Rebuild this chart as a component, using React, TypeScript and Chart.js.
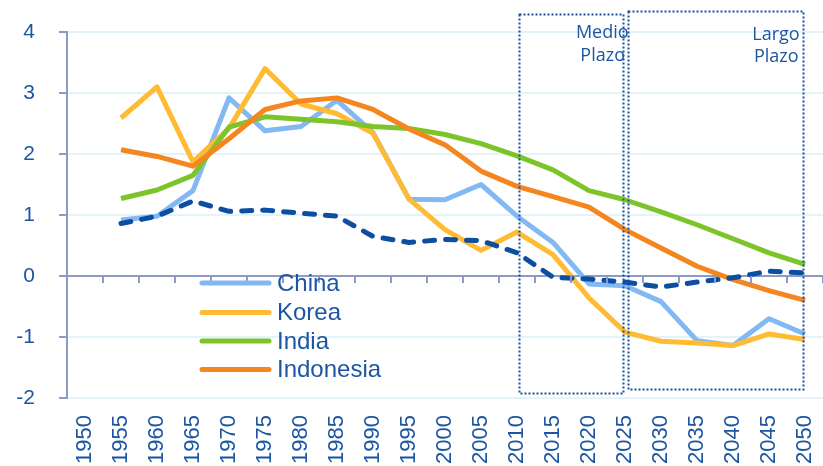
import React, { useEffect, useRef } from 'react';
import { Chart, registerables } from 'chart.js';

Chart.register(...registerables);

const years = ['1950', '1955', '1960', '1965', '1970', '1975', '1980', '1985', '1990', '1995', '2000', '2005', '2010', '2015', '2020', '2025', '2030', '2035', '2040', '2045', '2050'];

const china = [null, 0.92, 0.98, 1.40, 2.92, 2.38, 2.45, 2.88, 2.35, 1.26, 1.25, 1.50, 0.98, 0.55, -0.13, -0.16, -0.42, -1.06, -1.14, -0.70, -0.95];
const korea = [null, 2.59, 3.10, 1.87, 2.42, 3.40, 2.82, 2.66, 2.34, 1.26, 0.76, 0.42, 0.72, 0.35, -0.36, -0.92, -1.07, -1.10, -1.14, -0.95, -1.04];
const india = [null, 1.27, 1.41, 1.65, 2.44, 2.61, 2.57, 2.53, 2.45, 2.42, 2.32, 2.17, 1.97, 1.74, 1.40, 1.25, 1.05, 0.84, 0.61, 0.38, 0.19];
const indonesia = [null, 2.07, 1.96, 1.80, 2.25, 2.73, 2.87, 2.92, 2.73, 2.41, 2.15, 1.72, 1.47, 1.30, 1.13, 0.76, 0.46, 0.16, -0.06, -0.24, -0.40];
const dashedSeries = [null, 0.86, 0.98, 1.23, 1.06, 1.08, 1.03, 0.98, 0.65, 0.55, 0.60, 0.58, 0.38, -0.02, -0.05, -0.10, -0.18, -0.10, -0.03, 0.08, 0.05];

const legendLabels = ['China', 'Korea', 'India', 'Indonesia'];
const seriesColors = ['#82b9f3', '#ffbb33', '#7dc42a', '#f5861f'];
const dashedColor = '#0b4ea2';
const textColor = '#1c56a3';
const axisColor = '#8e9ac6';
const gridColor = '#e4f2fa';

const boxLabels = [['Medio', 'Plazo'], ['Largo', 'Plazo']];

const overlayPlugin = {
  id: 'overlay',
  afterDatasetsDraw(chart: any) {
    const ctx = chart.ctx;
    const x = chart.scales.x;
    const y = chart.scales.y;
    const area = chart.chartArea;
    ctx.save();
    const zeroY = y.getPixelForValue(0);
    ctx.strokeStyle = axisColor;
    ctx.lineWidth = 2;
    const cw = (area.right - area.left) / years.length;
    for (let i = 1; i <= years.length; i++) {
      const px = Math.round(area.left + i * cw);
      ctx.beginPath();
      ctx.moveTo(px, zeroY);
      ctx.lineTo(px, zeroY + 7);
      ctx.stroke();
    }
    const boxes = [
      { x0: 12.05, x1: 14.95, y0: 4.3, y1: -1.91 },
      { x0: 15.07, x1: 19.95, y0: 4.35, y1: -1.86 },
    ];
    ctx.strokeStyle = '#1a4f9c';
    ctx.lineWidth = 2;
    ctx.setLineDash([2, 2]);
    const pxOf = (v: number) => x.getPixelForValue(0) + v * cw;
    boxes.forEach((b) => {
      const l = Math.round(pxOf(b.x0)) + 0.5;
      const r = Math.round(pxOf(b.x1)) + 0.5;
      const t = Math.round(y.getPixelForValue(b.y0)) + 0.5;
      const bt = Math.round(y.getPixelForValue(b.y1)) + 0.5;
      ctx.strokeRect(l, t, r - l, bt - t);
    });
    ctx.setLineDash([]);
    ctx.fillStyle = textColor;
    ctx.font = '18px "Open Sans"';
    ctx.textAlign = 'right';
    ctx.textBaseline = 'middle';
    ctx.fillText(boxLabels[0][0], pxOf(15.1), 33);
    ctx.fillText(boxLabels[0][1], pxOf(15.0), 56);
    ctx.fillText(boxLabels[1][0], pxOf(19.85), 35);
    ctx.fillText(boxLabels[1][1], pxOf(19.82), 57);
    const ly = [283, 312.5, 341, 369.5];
    ctx.lineCap = 'round';
    ctx.lineWidth = 5;
    ctx.font = '24px "Liberation Sans", Arial, sans-serif';
    ctx.textAlign = 'left';
    legendLabels.forEach((lab, i) => {
      ctx.strokeStyle = seriesColors[i];
      ctx.beginPath();
      ctx.moveTo(202, ly[i]);
      ctx.lineTo(269, ly[i]);
      ctx.stroke();
      ctx.fillStyle = textColor;
      ctx.fillText(lab, 277, ly[i] + 1);
    });
    ctx.restore();
  },
};

export default function App() {
  const ref = useRef<HTMLCanvasElement>(null);
  useEffect(() => {
    if (!ref.current) return;
    const mk = (label: string, data: any[], color: string, order: number, dash?: number[]) => ({
      label,
      data,
      borderColor: color,
      backgroundColor: color,
      borderWidth: 5,
      pointRadius: 0,
      tension: 0,
      fill: false,
      order,
      borderDash: dash || [],
      borderCapStyle: dash ? 'round' : 'butt',
      borderJoinStyle: 'round',
    });
    const chart = new Chart(ref.current, {
      type: 'line',
      data: {
        labels: years,
        datasets: [
          mk(legendLabels[0], china, seriesColors[0], 5),
          mk(legendLabels[1], korea, seriesColors[1], 4),
          mk(legendLabels[2], india, seriesColors[2], 3),
          mk(legendLabels[3], indonesia, seriesColors[3], 2),
          mk('', dashedSeries, dashedColor, 1, [10, 11]),
        ] as any,
      },
      options: {
        responsive: false,
        animation: false,
        devicePixelRatio: 1,
        layout: { padding: { top: 32, right: 0, left: 0, bottom: 0 } },
        plugins: { legend: { display: false }, tooltip: { enabled: false } },
        scales: {
          x: {
            offset: true,
            grid: { display: false, drawTicks: false },
            border: { display: false },
            ticks: {
              color: textColor,
              font: { family: '"Liberation Sans", Arial, sans-serif', size: 22 },
              minRotation: 90,
              maxRotation: 90,
              autoSkip: false,
              padding: 17,
            },
            afterFit: (s: any) => { s.height = 68; s.paddingLeft = 0; s.paddingRight = 0; },
          },
          y: {
            min: -2,
            max: 4,
            ticks: {
              stepSize: 1,
              color: textColor,
              font: { family: '"Liberation Sans", Arial, sans-serif', size: 21 },
              padding: 24,
            },
            grid: {
              color: (c: any) => (c.tick && c.tick.value === 0 ? axisColor : gridColor),
              lineWidth: 2,
              tickColor: axisColor,
              tickLength: 8,
            },
            border: { color: axisColor, width: 2 },
            afterFit: (s: any) => { s.width = 67; s.paddingTop = 0; s.paddingBottom = 0; },
          },
        },
      },
      plugins: [overlayPlugin],
    });
    return () => chart.destroy();
  }, []);
  return (
    <div style={{ position: 'fixed', left: 0, top: 0, width: 823, height: 466, background: '#fff' }}>
      <canvas ref={ref} width={823} height={466} />
    </div>
  );
}
